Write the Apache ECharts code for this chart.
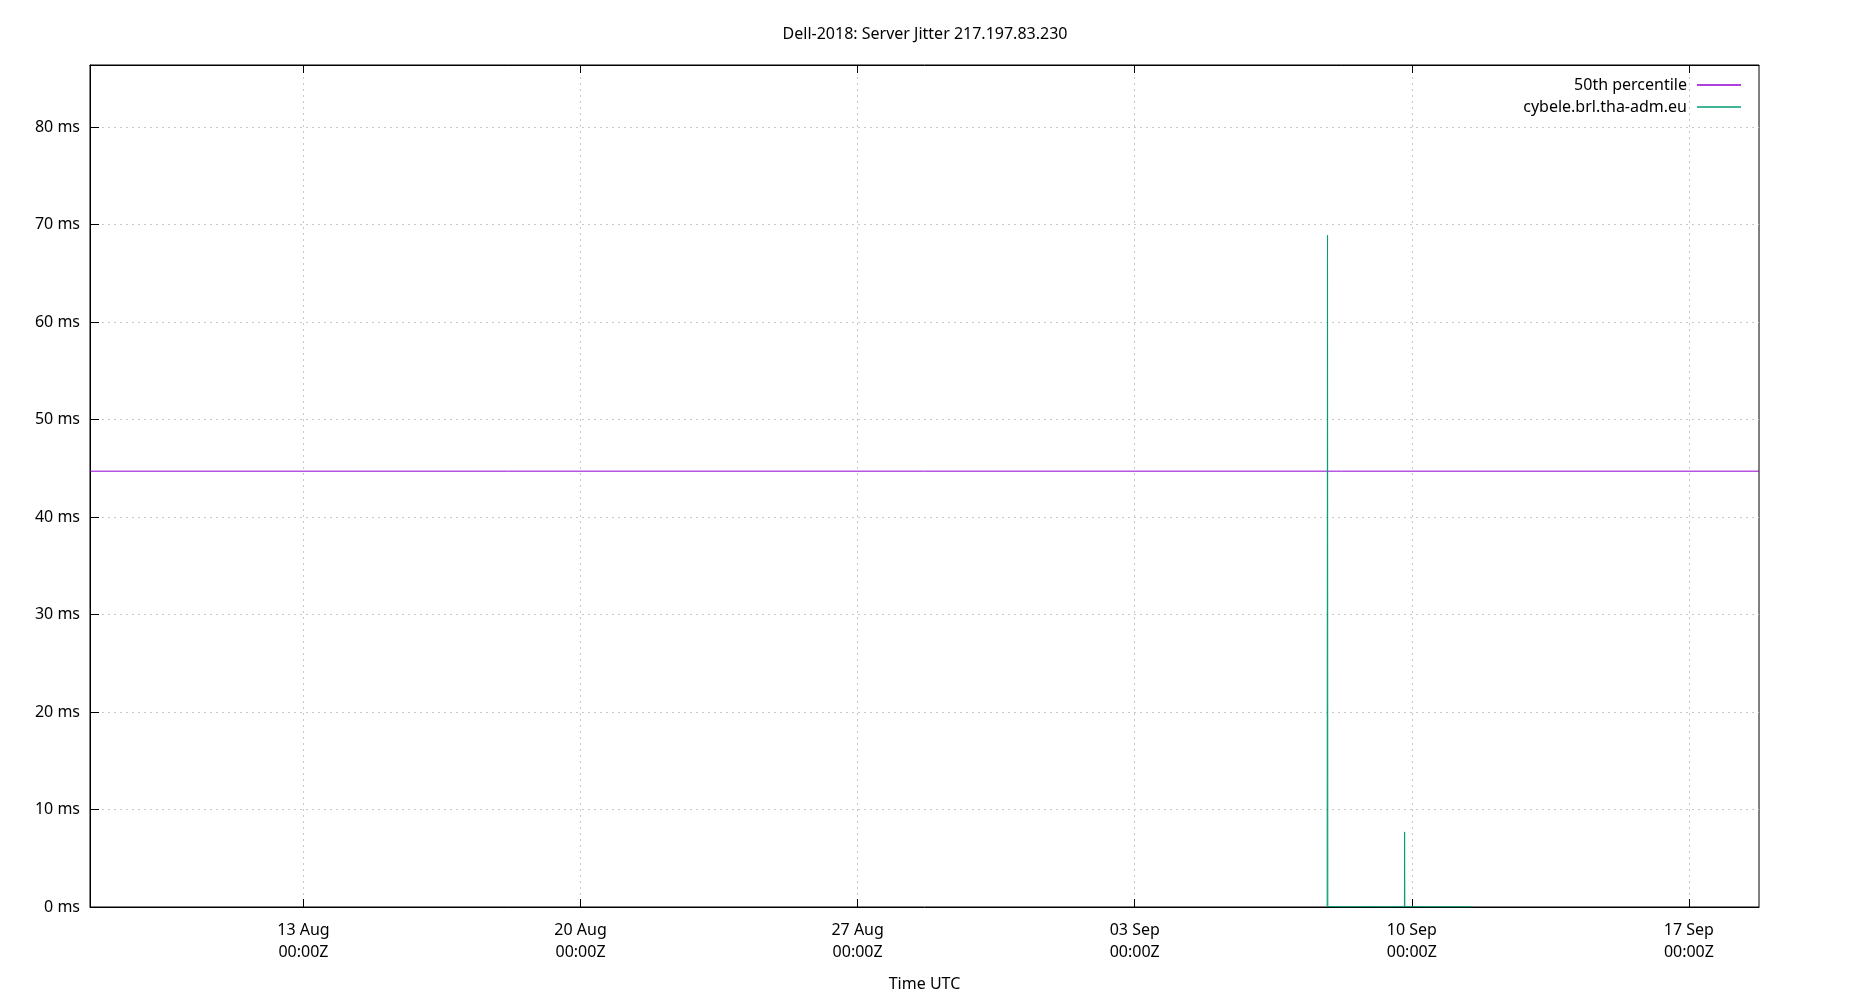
<!DOCTYPE html>
<html>
<head>
<meta charset="utf-8">
<script src="https://cdn.jsdelivr.net/npm/echarts@6/dist/echarts.min.js"></script>
<style>
html,body{margin:0;padding:0;background:#fff;}
#chart{width:1850px;height:1000px;}
</style>
</head>
<body>
<div id="chart"></div>
<script>
// ---- data ----
var titleText = 'Dell-2018: Server Jitter 217.197.83.230';
var xAxisName = 'Time UTC';
var xRange = ['2018-08-07T14:35:00Z', '2018-09-18T18:30:00Z'];
var xTickDates = ['2018-08-13T00:00:00Z', '2018-08-20T00:00:00Z', '2018-08-27T00:00:00Z',
                  '2018-09-03T00:00:00Z', '2018-09-10T00:00:00Z', '2018-09-17T00:00:00Z'];
var yMax = 86.36;
var yInterval = 10;

var medianName = '50th percentile';
var medianTimes = ['2018-08-07T14:35:00Z', '2018-09-18T18:30:00Z'];
var medianValues = [44.7, 44.7];

var serverName = 'cybele.brl.tha-adm.eu';
var serverTimes = ['2018-09-07T20:40:00Z', '2018-09-07T20:52:00Z', '2018-09-07T20:55:00Z',
                   '2018-09-07T21:05:00Z', '2018-09-08T06:00:00Z', '2018-09-08T18:00:00Z',
                   '2018-09-09T08:00:00Z', '2018-09-09T19:30:00Z', '2018-09-09T19:38:00Z',
                   '2018-09-09T19:46:00Z', '2018-09-10T12:00:00Z', '2018-09-11T12:00:00Z'];
var serverValues = [0.03, 66.0, 68.9, 0.04, 0.02, 0.03, 0.02, 0.03, 7.7, 0.03, 0.02, 0.02];

// ---- build ----
function ts(s){ return Date.parse(s); }
var MON = ['Jan','Feb','Mar','Apr','May','Jun','Jul','Aug','Sep','Oct','Nov','Dec'];
function fmtDate(v){
  var d = new Date(v);
  var dd = d.getUTCDate(); dd = dd < 10 ? '0' + dd : '' + dd;
  var hh = d.getUTCHours(); hh = hh < 10 ? '0' + hh : '' + hh;
  var mm = d.getUTCMinutes(); mm = mm < 10 ? '0' + mm : '' + mm;
  return dd + ' ' + MON[d.getUTCMonth()] + '\n' + hh + ':' + mm + 'Z';
}
var xMin = ts(xRange[0]), xMax = ts(xRange[1]);
var xTicks = xTickDates.map(ts);
function pairs(times, vals){ return times.map(function(t,i){ return [ts(t), vals[i]]; }); }

var FONT = '"Noto Sans", "Open Sans", sans-serif';
var gridLine = {show:true, lineStyle:{color:'#c8c8c8', type:[2,4], width:1}};

var chart = echarts.init(document.getElementById('chart'), null, {renderer:'canvas'});
chart.setOption({
  animation:false,
  backgroundColor:'#ffffff',
  textStyle:{fontFamily:FONT},
  title:{text:titleText, left:'center', top:21,
    textStyle:{fontFamily:FONT, fontSize:16, fontWeight:'normal', color:'#000'}},
  legend:{
    orient:'vertical', right:109, top:74, align:'right', padding:0,
    icon:'rect', itemWidth:44, itemHeight:1.4, itemGap:0,
    textStyle:{fontFamily:FONT, fontSize:16, color:'#000', lineHeight:22, padding:[0,5,0,0]},
    data:[medianName, serverName]
  },
  grid:{left:90, right:91, top:65, bottom:93, show:true, borderColor:'#000', borderWidth:1, backgroundColor:'transparent'},
  xAxis:[{
    type:'value', min:xMin, max:xMax, position:'bottom',
    name:xAxisName, nameLocation:'middle', nameGap:69,
    nameTextStyle:{fontFamily:FONT, fontSize:16, color:'#000'},
    axisLine:{show:true, onZero:false, lineStyle:{color:'#000', width:1}},
    axisTick:{show:true, inside:true, length:8, customValues:xTicks, lineStyle:{color:'#000', width:1}},
    axisLabel:{show:true, customValues:xTicks, formatter:fmtDate, margin:12,
      fontFamily:FONT, fontSize:16, color:'#000', lineHeight:22},
    splitLine:gridLine
  },{
    type:'value', min:xMin, max:xMax, position:'top',
    axisLine:{show:true, onZero:false, lineStyle:{color:'#000', width:1}},
    axisTick:{show:true, inside:true, length:8, customValues:xTicks, lineStyle:{color:'#000', width:1}},
    axisLabel:{show:false},
    splitLine:{show:false}
  }],
  yAxis:{
    type:'value', min:0, max:yMax, interval:yInterval,
    axisLine:{show:true, onZero:false, lineStyle:{color:'#000', width:1}},
    axisTick:{show:true, inside:true, length:9, lineStyle:{color:'#000', width:1}},
    axisLabel:{margin:10, fontFamily:FONT, fontSize:16, color:'#000',
      formatter:function(v){ return (Math.abs(v/yInterval - Math.round(v/yInterval)) < 1e-6) ? (v + ' ms') : ''; }},
    splitLine:gridLine
  },
  series:[{
    name:medianName, type:'line', symbol:'none', xAxisIndex:0,
    data:pairs(medianTimes, medianValues),
    lineStyle:{color:'#9400d3', width:1}, itemStyle:{color:'#9400d3'}
  },{
    name:serverName, type:'line', symbol:'none', xAxisIndex:0,
    data:pairs(serverTimes, serverValues),
    lineStyle:{color:'#009e73', width:1}, itemStyle:{color:'#009e73'}
  }]
});
</script>
</body>
</html>
